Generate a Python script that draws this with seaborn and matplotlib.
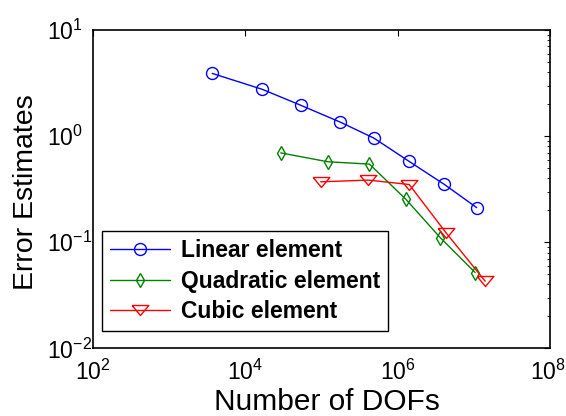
import numpy as np
import pandas as pd
import matplotlib
matplotlib.use("Agg")
import matplotlib.pyplot as plt
import matplotlib.transforms as mtransforms
from matplotlib.ticker import LogLocator, NullLocator
import seaborn as sns

# values (log-log convergence plot)
linear_dofs = [3.7e3, 1.68e4, 5.4e4, 1.77e5, 4.9e5, 1.42e6, 4.07e6, 1.09e7]
linear_err = [3.90, 2.76, 1.95, 1.355, 0.957, 0.577, 0.352, 0.212]

quad_dofs = [2.93e4, 1.22e5, 4.27e5, 1.29e6, 3.62e6, 1.04e7]
quad_err = [0.695, 0.573, 0.545, 0.253, 0.1106, 0.0518]

cubic_dofs = [9.8e4, 4.14e5, 1.42e6, 4.33e6, 1.41e7]
cubic_err = [0.371, 0.385, 0.350, 0.1225, 0.0429]

labels = ["Linear element", "Quadratic element", "Cubic element"]
colors = ["#0000FF", "#008000", "#FF0000"]

# wide, flat triangle like the MATLAB 'v' marker
tri_down = [(-1.0, 0.6), (1.0, 0.6), (0.0, -0.6), (-1.0, 0.6)]

sns.set_theme(style="white")
plt.rcParams["font.family"] = ["Liberation Sans", "DejaVu Sans"]
plt.rcParams["mathtext.fontset"] = "custom"
plt.rcParams["mathtext.rm"] = "Liberation Sans"
plt.rcParams["mathtext.it"] = "Liberation Sans:italic"
plt.rcParams["mathtext.bf"] = "Liberation Sans:bold"
plt.rcParams["axes.unicode_minus"] = False
plt.rcParams["text.color"] = "black"
plt.rcParams["axes.labelcolor"] = "black"

fig = plt.figure(figsize=(5.66, 4.16), dpi=100)
ax = fig.add_axes([0.1638, 0.1627, 0.808, 0.7651])

series = [
    (linear_dofs, linear_err, "o", 8.6),
    (quad_dofs, quad_err, "d", 7.5),
    (cubic_dofs, cubic_err, tri_down, 12.0),
]
for (xs, ys, mk, ms), lab, col in zip(series, labels, colors):
    df = pd.DataFrame({"dofs": xs, "err": ys})
    sns.lineplot(data=df, x="dofs", y="err", ax=ax, color=col, lw=1.0,
                 marker=mk, markersize=ms, markerfacecolor="none",
                 markeredgecolor=col, markeredgewidth=1.0, label=lab)

ax.set_xscale("log")
ax.set_yscale("log")
ax.set_xlim(1e2, 1e8)
ax.set_ylim(1e-2, 1e1)
ax.set_xticks([1e2, 1e4, 1e6, 1e8])
ax.xaxis.set_minor_locator(NullLocator())
ax.set_yticks([1e-2, 1e-1, 1e0, 1e1])
ax.yaxis.set_minor_locator(LogLocator(base=10, subs=np.arange(2, 10)))

ax.tick_params(which="both", direction="in", top=True, right=True,
               colors="black", labelcolor="black", labelsize=16.5)
ax.tick_params(which="major", length=4, width=0.8)
ax.tick_params(which="minor", length=2.5, width=0.6)
ax.tick_params(axis="x", which="major", pad=8)
# MATLAB-style: the "10" of every y label starts at the same x
ax.tick_params(axis="y", which="major", pad=33)
plt.setp(ax.get_yticklabels(), ha="left")

# keep the 10^8 label just inside the right edge of the figure
last = ax.get_xticklabels()[-1]
last.set_transform(last.get_transform() +
                   mtransforms.ScaledTranslation(-2 / 100, 0, fig.dpi_scale_trans))

for sp in ax.spines.values():
    sp.set_color("black")
    sp.set_linewidth(1.2)

ax.set_xlabel("Number of DOFs", fontsize=21.5)
ax.set_ylabel("Error Estimates", fontsize=20.5)
ax.xaxis.set_label_coords(0.513, -0.125)
ax.yaxis.set_label_coords(-0.117, 0.49)

leg = ax.legend(loc="lower left", bbox_to_anchor=(0.021, 0.054),
                borderaxespad=0, fancybox=False, edgecolor="black",
                framealpha=1, handlelength=2.6, handletextpad=0.48,
                labelspacing=0.33, borderpad=0.35, labelcolor="black",
                prop={"family": "Liberation Sans", "weight": "bold", "size": 16.5})
leg.get_frame().set_linewidth(1.0)

fig.savefig("out.png", dpi=100)
